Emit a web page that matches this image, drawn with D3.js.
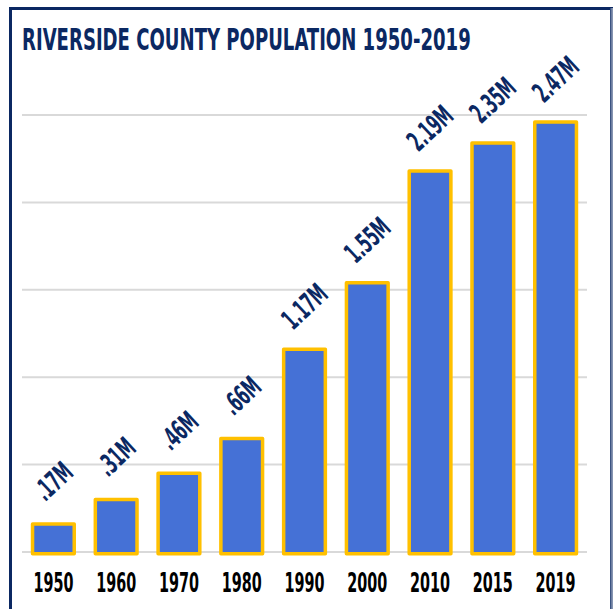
<!DOCTYPE html>
<html><head><meta charset="utf-8">
<script src="https://cdn.jsdelivr.net/npm/d3@7"></script>
<style>
html,body{margin:0;padding:0;background:#fff;}
svg{display:block;}
</style></head>
<body>
<svg id="chart" width="613" height="609"></svg>
<script>
const years = ["1950","1960","1970","1980","1990","2000","2010","2015","2019"];
const population = [0.17, 0.31, 0.46, 0.66, 1.17, 1.55, 2.19, 2.35, 2.47];
const valueLabels = [".17M", ".31M", ".46M", ".66M", "1.17M", "1.55M", "2.19M", "2.35M", "2.47M"];
const yTicks = [0, 0.5, 1, 1.5, 2, 2.5];
const title = "RIVERSIDE COUNTY POPULATION 1950-2019";

const svg = d3.select("#chart");
const navy = "#0b2862";
const font = "'DejaVu Sans Condensed', 'DejaVu Sans', sans-serif";

// frame
svg.append("rect").attr("x", 10.5).attr("y", 8.5).attr("width", 601).attr("height", 640)
  .attr("fill", "#fff").attr("stroke", navy).attr("stroke-width", 3);
svg.append("rect").attr("x", 610.5).attr("y", 8).attr("width", 2).attr("height", 601).attr("fill", "#fff");
svg.append("line").attr("x1", 611).attr("x2", 611).attr("y1", 8).attr("y2", 609)
  .attr("stroke", navy).attr("stroke-width", 1.2);

// title
svg.append("text").attr("x", 22).attr("y", 50)
  .attr("font-family", font).attr("font-weight", "bold").attr("font-size", 30)
  .attr("fill", navy)
  .attr("transform", "translate(22,0) scale(0.67,1) translate(-22,0)")
  .text(title);

const x = d3.scaleBand().domain(years).range([22, 587]).paddingInner(0.28).paddingOuter(0.14);
const y = d3.scaleLinear().domain([0, 2.5]).range([552, 115]);

// gridlines
svg.append("g").selectAll("line").data(yTicks).join("line")
  .attr("x1", 22).attr("x2", 587)
  .attr("y1", d => y(d)).attr("y2", d => y(d))
  .attr("stroke", "#d9d9d9").attr("stroke-width", 2);

// bars
const sw = 3.5;
svg.append("g").selectAll("rect").data(years).join("rect")
  .attr("x", d => x(d) + sw/2)
  .attr("width", x.bandwidth() - sw)
  .attr("y", (d, i) => y(population[i]) + sw/2)
  .attr("height", (d, i) => y(0) - y(population[i]))
  .attr("fill", "#4571d6")
  .attr("stroke", "#ffc000").attr("stroke-width", sw).attr("stroke-linejoin", "round");

// value labels
svg.append("g").selectAll("text").data(years).join("text")
  .attr("transform", (d, i) => `translate(${x(d) + x.bandwidth()/2},${y(population[i]) - 41}) rotate(-43) scale(0.58,1)`)
  .attr("text-anchor", "middle").attr("dominant-baseline", "central")
  .attr("font-family", font).attr("font-weight", "bold").attr("font-size", 28)
  .attr("fill", navy)
  .text((d, i) => valueLabels[i]);

// x axis labels
const xAxis = d3.axisBottom(x).tickSize(0).tickPadding(0);
const gx = svg.append("g").attr("transform", "translate(0,592)").call(xAxis);
gx.select(".domain").remove();
gx.selectAll("text")
  .attr("y", 0).attr("dy", 0)
  .attr("font-family", font).attr("font-weight", "bold").attr("font-size", 27)
  .attr("fill", "#000")
  .attr("textLength", 40).attr("lengthAdjust", "spacingAndGlyphs");
</script>
</body></html>
